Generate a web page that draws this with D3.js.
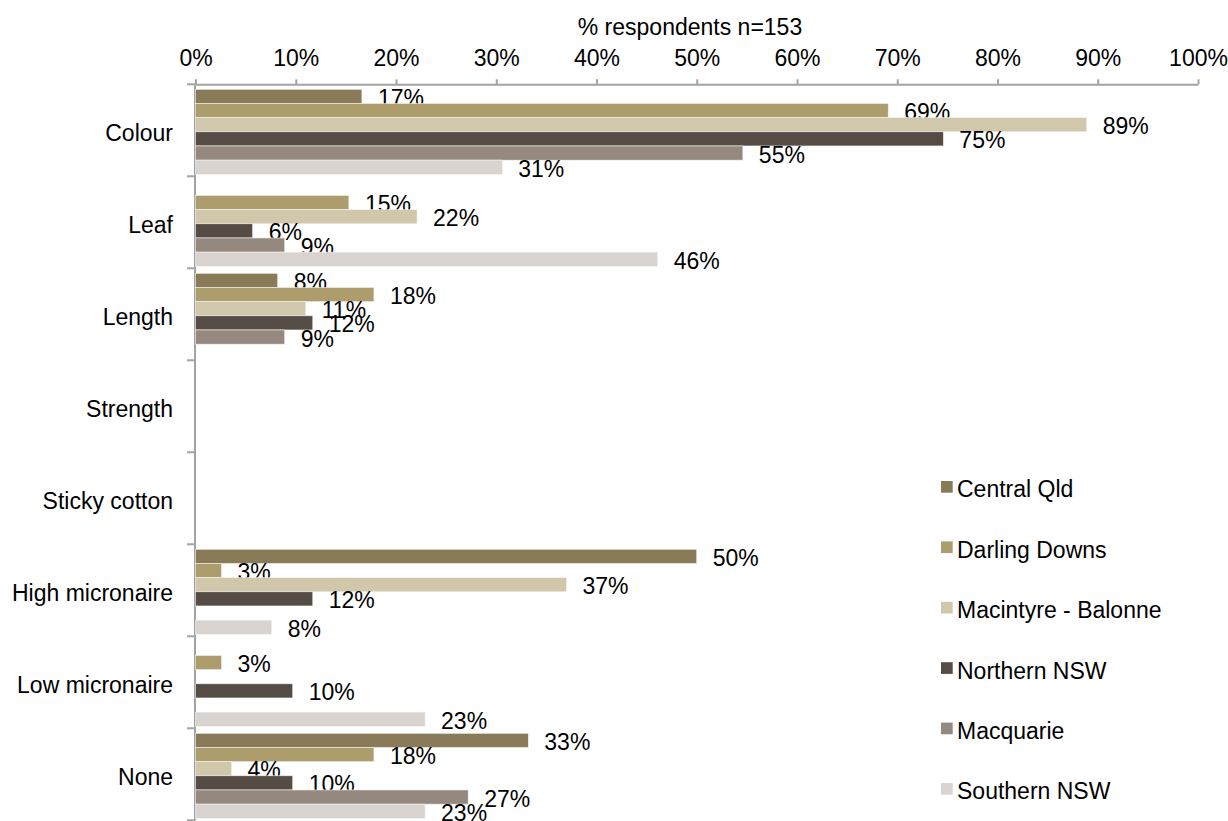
<!DOCTYPE html>
<html>
<head>
<meta charset="utf-8">
<script src="https://cdn.jsdelivr.net/npm/d3@7"></script>
<style>
  html, body { margin: 0; padding: 0; background: #fff; }
  svg { display: block; font-family: "Liberation Sans", Arial, sans-serif; }
</style>
</head>
<body>
<svg id="chart" width="1228" height="821"></svg>
<script>
// Fibre quality issues by growing region (% of respondents, n=153)
const categories = ["Colour", "Leaf", "Length", "Strength", "Sticky cotton",
                    "High micronaire", "Low micronaire", "None"];
const regions = ["Central Qld", "Darling Downs", "Macintyre - Balonne",
                 "Northern NSW", "Macquarie", "Southern NSW"];

// one array per region, in category order; null = no response recorded
const centralQld   = [16.6, null,  8.2, null, null, 50.0, null, 33.2];
const darlingDowns = [69.1, 15.3, 17.8, null, null,  2.6,  2.6, 17.8];
const macintyre    = [88.9, 22.1, 11.0, null, null, 37.0, null,  3.6];
const northernNSW  = [74.6,  5.7, 11.7, null, null, 11.7,  9.7,  9.7];
const macquarie    = [54.6,  8.9,  8.9, null, null, null, null, 27.2];
const southernNSW  = [30.6, 46.1, null, null, null,  7.6, 22.9, 22.9];

const xTicks = [0, 10, 20, 30, 40, 50, 60, 70, 80, 90, 100];
const axisTitle = "% respondents n=153";

const regionValues = [centralQld, darlingDowns, macintyre, northernNSW, macquarie, southernNSW];
const regionColors = ["#8a7b58", "#ae9d6c", "#d1c8ab", "#544c45", "#95887e", "#d9d4cf"];

const svg = d3.select("#chart");
const fontSize = 23;
const fontFamily = '"Liberation Sans", Arial, sans-serif';

const x = d3.scaleLinear().domain([0, 100]).range([195.5, 1198]);
const y = d3.scaleBand().domain(categories).range([84.3, 820.3]).padding(0);
const yInner = d3.scaleBand().domain(regions).range([5, 90]).padding(0);
const color = d3.scaleOrdinal().domain(regions).range(regionColors);
const fmt = d3.format(".0f");

const axisColor = "#a3a3a3";

// top value axis
const xAxis = svg.append("g")
  .attr("transform", `translate(0,${y.range()[0]})`)
  .call(d3.axisTop(x).tickValues(xTicks).tickSize(5).tickSizeOuter(0)
        .tickPadding(13).tickFormat(d => d + "%"));
xAxis.select(".domain").attr("stroke", axisColor).attr("stroke-width", 2);
xAxis.selectAll(".tick line").attr("stroke", axisColor).attr("stroke-width", 2);
xAxis.selectAll(".tick text").attr("fill", "#000")
  .style("font-size", fontSize + "px")
  .style("font-family", fontFamily);

svg.append("text")
  .attr("x", 690).attr("y", 34.5)
  .attr("text-anchor", "middle")
  .style("font-size", fontSize + "px")
  .attr("fill", "#000")
  .text(axisTitle);

// category axis on the left
const yAxis = svg.append("g")
  .attr("transform", `translate(${x(0) - 0.5},0)`)
  .call(d3.axisLeft(y).tickSize(0).tickPadding(22));
yAxis.select(".domain").remove();
yAxis.selectAll(".tick text").attr("fill", "#000").attr("dy", "0.46em")
  .style("font-size", fontSize + "px")
  .style("font-family", fontFamily);

// band boundary ticks
const boundaries = categories.map(c => y(c)).concat([y.range()[1]]);
svg.append("g").selectAll("line").data(boundaries).join("line")
  .attr("x1", x(0) - 8.5).attr("x2", x(0) - 0.5)
  .attr("y1", d => d).attr("y2", d => d)
  .attr("stroke", axisColor).attr("stroke-width", 2);
svg.append("line")
  .attr("x1", x(0) - 0.5).attr("x2", x(0) - 0.5)
  .attr("y1", y.range()[0]).attr("y2", y.range()[1])
  .attr("stroke", axisColor).attr("stroke-width", 2);

// bars and data labels, one series at a time
regions.forEach((r, i) => {
  const data = categories.map((c, j) => ({ cat: c, v: regionValues[i][j] }))
    .filter(d => d.v !== null);
  const g = svg.append("g");
  g.selectAll("rect").data(data).join("rect")
    .attr("x", x(0))
    .attr("y", d => y(d.cat) + yInner(r))
    .attr("width", d => x(d.v) - x(0))
    .attr("height", yInner.bandwidth())
    .attr("fill", color(r))
    .attr("stroke", "#f4f2ee").attr("stroke-width", 0.6);
  g.selectAll("text").data(data).join("text")
    .attr("x", d => x(d.v) + 16)
    .attr("y", d => y(d.cat) + yInner(r) + yInner.bandwidth() / 2 + 9.5)
    .style("font-size", fontSize + "px")
    .attr("fill", "#000")
    .text(d => fmt(d.v) + "%");
});

// legend
const legend = svg.append("g").selectAll("g").data(regions).join("g")
  .attr("transform", (d, i) => `translate(941,${497.3 + i * 60.4})`);
legend.append("rect")
  .attr("x", 0).attr("y", -16.3).attr("width", 11.7).attr("height", 11.7)
  .attr("fill", d => color(d));
legend.append("text")
  .attr("x", 16).attr("y", 0)
  .style("font-size", fontSize + "px")
  .attr("fill", "#000")
  .text(d => d);
</script>
</body>
</html>
